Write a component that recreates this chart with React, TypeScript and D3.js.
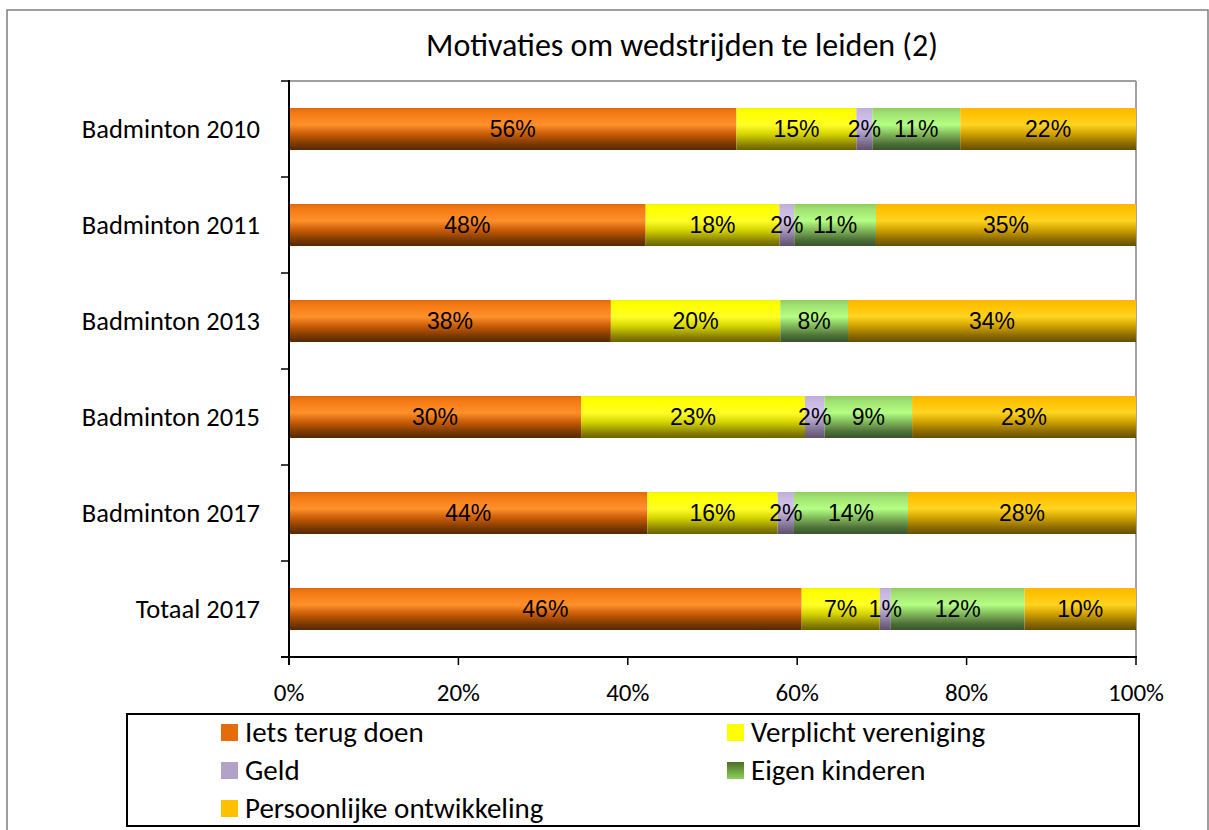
import React from "react";
import * as d3 from "d3";

const categories = ["Badminton 2010", "Badminton 2011", "Badminton 2013", "Badminton 2015", "Badminton 2017", "Totaal 2017"];
const seriesNames = ["Iets terug doen", "Verplicht vereniging", "Geld", "Eigen kinderen", "Persoonlijke ontwikkeling"];
const iets = [56, 48, 38, 30, 44, 46];
const verplicht = [15, 18, 20, 23, 16, 7];
const geld = [2, 2, 0, 2, 2, 1];
const kinderen = [11, 11, 8, 9, 14, 12];
const persoonlijk = [22, 35, 34, 23, 28, 10];
const xTicks = [0, 0.2, 0.4, 0.6, 0.8, 1];
const title = "Motivaties om wedstrijden te leiden (2)";

const FONT = "Carlito, Calibri, Lato, sans-serif";
const NARROW = "'Liberation Sans Narrow', 'Arial Narrow', 'Liberation Sans', sans-serif";

const grads = [
  { id: "g0", stops: [[0, "#e06a0a"], [0.12, "#f47a14"], [0.4, "#ff902c"], [0.62, "#c85c06"], [0.85, "#7c3a02"], [1, "#5a2800"]] },
  { id: "g1", stops: [[0, "#f4f400"], [0.12, "#ffff00"], [0.4, "#ffff28"], [0.62, "#d6d400"], [0.85, "#908a00"], [1, "#6a6200"]] },
  { id: "g2", stops: [[0, "#bcaed6"], [0.12, "#c8b8e2"], [0.4, "#d2c4ec"], [0.62, "#a898c0"], [0.85, "#786a8a"], [1, "#5e5270"]] },
  { id: "g3", stops: [[0, "#90cc60"], [0.12, "#a0e070"], [0.4, "#b4ff84"], [0.62, "#80b85a"], [0.85, "#4e7038"], [1, "#3a522a"]] },
  { id: "g4", stops: [[0, "#f8b800"], [0.12, "#ffc000"], [0.4, "#ffd420"], [0.62, "#d0a000"], [0.85, "#8a6a00"], [1, "#664e00"]] },
];
const legendFill = ["#e46c0a", "#ffff00", "#b3a2c7", "url(#legGreen)", "#ffc000"];

export default function App() {
  const W = 1209, H = 830;
  const left = 289, right = 1136, top = 81, bottom = 657;
  const series = [iets, verplicht, geld, kinderen, persoonlijk];

  const x = d3.scaleLinear().domain([0, 1]).range([left, right]);
  const y = d3.scaleBand<string>().domain(categories).range([top, bottom]).paddingInner(0.5625).paddingOuter(0.28125);

  const rows = categories.map((c, i) => {
    const vals = series.map((s) => s[i]);
    const total = d3.sum(vals);
    let acc = 0;
    return vals.map((v, k) => {
      const x0 = acc / total;
      acc += v;
      return { k, v, x0, x1: acc / total, cat: c };
    });
  });

  const step = y.step();
  const boundaries = d3.range(categories.length + 1).map((i) => top + i * step);

  const legendItems = seriesNames.map((n, i) => ({
    n,
    i,
    lx: i % 2 === 0 ? 221 : 727,
    ly: 724 + Math.floor(i / 2) * 38,
  }));

  return (
    <svg width={W} height={H} style={{ position: "absolute", left: 0, top: 0, background: "#fff" }}>
      <defs>
        {grads.map((g) => (
          <linearGradient key={g.id} id={g.id} x1="0" y1="0" x2="0" y2="1">
            {g.stops.map(([o, c], j) => (
              <stop key={j} offset={o as number} stopColor={c as string} />
            ))}
          </linearGradient>
        ))}
        <linearGradient id="legGreen" x1="0" y1="0" x2="0" y2="1">
          <stop offset="0" stopColor="#4a7028" />
          <stop offset="1" stopColor="#90d058" />
        </linearGradient>
      </defs>
      <rect x={7} y={10} width={1201} height={840} fill="#fff" stroke="#7f7f7f" strokeWidth={1.5} />
      <text x={682} y={56} textAnchor="middle" fontFamily={FONT} fontSize={32} fill="#000">{title}</text>

      {/* plot area border */}
      <line x1={left} y1={top} x2={right} y2={top} stroke="#a0a0a0" strokeWidth={2} />
      <line x1={right} y1={top} x2={right} y2={bottom} stroke="#a0a0a0" strokeWidth={2} />

      {rows.map((segs, i) => (
        <g key={i}>
          {segs.filter((s) => s.v > 0).map((s) => (
            <rect key={s.k} x={x(s.x0)} y={y(s.cat)!} width={x(s.x1) - x(s.x0)} height={y.bandwidth()} fill={`url(#g${s.k})`} />
          ))}
        </g>
      ))}
      {rows.map((segs, i) => (
        <g key={"l" + i}>
          {segs.filter((s) => s.v > 0).map((s) => (
            <text key={s.k} x={(x(s.x0) + x(s.x1)) / 2} y={y(s.cat)! + y.bandwidth() / 2 + 8} textAnchor="middle" fontFamily={NARROW} fontSize={23} fill="#000">
              {s.v}%
            </text>
          ))}
        </g>
      ))}

      {/* axes */}
      <line x1={left} y1={top - 1} x2={left} y2={bottom + 8} stroke="#000" strokeWidth={2} />
      <line x1={left - 8} y1={bottom} x2={right + 1} y2={bottom} stroke="#000" strokeWidth={2} />
      {boundaries.map((b, i) => (
        <line key={i} x1={left - 8} y1={b} x2={left} y2={b} stroke="#000" strokeWidth={1.5} />
      ))}
      {xTicks.map((t, i) => (
        <g key={i}>
          <line x1={x(t)} y1={bottom} x2={x(t)} y2={bottom + 8} stroke="#000" strokeWidth={1.5} />
          <text x={x(t)} y={701} textAnchor="middle" fontFamily={FONT} fontSize={25} fill="#000">
            {d3.format(".0%")(t)}
          </text>
        </g>
      ))}
      {categories.map((c) => (
        <text key={c} x={260} y={y(c)! + y.bandwidth() / 2 + 9} textAnchor="end" fontFamily={FONT} fontSize={26.5} fill="#000">
          {c}
        </text>
      ))}

      {/* legend */}
      <rect x={127} y={714} width={1012} height={112} fill="#fff" stroke="#000" strokeWidth={2} />
      {legendItems.map((it) => (
        <g key={it.n}>
          <rect x={it.lx} y={it.ly} width={17} height={17} fill={legendFill[it.i]} />
          <text x={it.lx + 24} y={it.ly + 18} fontFamily={FONT} fontSize={29} fill="#000">{it.n}</text>
        </g>
      ))}
    </svg>
  );
}
